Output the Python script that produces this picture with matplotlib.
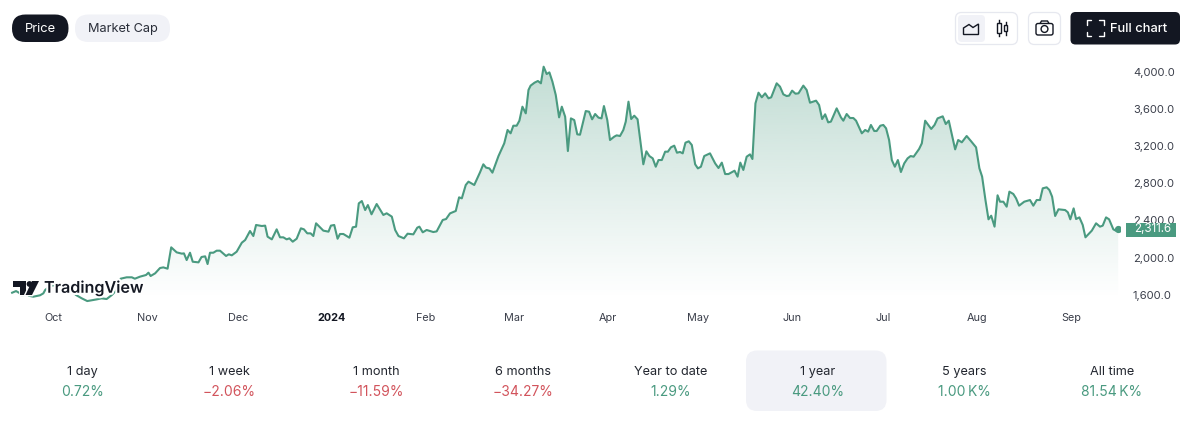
import numpy as np
import matplotlib
matplotlib.use("Agg")
import matplotlib.pyplot as plt
import matplotlib.dates as mdates
import matplotlib.patheffects as pe
from matplotlib.patches import FancyBboxPatch, Polygon, Rectangle, Circle
from matplotlib.colors import to_rgb

plt.rcParams['font.family'] = ['Inter', 'DejaVu Sans']

# days counted from 2023-10-01
days = [-13.5,-12.2,-10.9,-10.3,-8.7,-6.5,-4.3,-3.2,-2.6,-1,1.2,2.9,5,6.7,7.6,9.5,11.3,14.4,16,17.7,19.4,21,21.7,22.3,24.3,26,27,28.7,30.7,31.5,32.2,33.7,35.3,36.4,37.8,39,40.8,42.5,43.2,44.1,45.2,46.1,48,49,50.2,51,51.8,52.9,54,55.1,57.1,58,59,60.6,62.3,63.4,65,66.1,67,68.9,70,70.8,72.2,73.8,74.9,76,77.1,78,79.1,80.4,81.8,82.8,83.9,85,85.9,86.8,87.9,89.2,90.9,91.7,92.8,93.9,94.7,95.8,97.8,98.9,100,100.9,101.9,103,103.9,105.1,106.8,109,110.1,111.8,112.9,114,
115.8,117,118.9,120.2,120.9,122,123.3,125.5,126.6,128.6,129.7,131,132.9,134,134.9,136.2,137.1,139,140.9,142,142.9,144,145,147,148.9,150,151,151.9,153,153.9,154.9,156,156.9,157.6,158.9,160,161,161.9,162.9,163.8,164.8,165.9,167,167.9,169,169.9,170.9,172,173,173.9,175.8,176.9,177.9,178.9,180,181,181.8,182.9,183.8,185.2,186,187.1,188.2,189,189.9,190.8,191.8,192.9,194.8,195.8,196.8,197.9,198.9,199.8,200.9,202,202.9,203.9,205,205.9,206.9,207.8,208.7,209.8,210.8,211.9,212.8,213.8,214.9,216.8,218.5,219.6,220.7,221.8,222.9,224.9,225.9,226.8,227.8,228.9,230,230.8,231.8,232.8,233.9,235,236.1,237,238.8,239.9,241,242.1,242.9,243.9,245,246,
247.6,248.7,249.8,251.8,252.8,253.8,254.8,255.8,256.7,258.6,260,260.8,261.9,263,264.1,265,266.9,268,269,269.9,271,271.8,273,274,274.9,275.9,276.8,277.8,278.8,279.8,280.9,282,283,284,285.8,286.7,287.8,289.8,290.9,291.9,293.6,294.6,295.6,297.7,298.7,299.9,301.5,302.9,304.6,305.7,306.6,307.7,308.7,309.6,310.7,311.7,312.5,313.6,314.7,315.6,316.9,317.8,318.8,320.5,322.4,323.5,324.6,325.7,326.6,327.9,328.8,329.7,330.7,331.8,334,334.9,335.7,336.8,337.6,338.7,339.8,340.7,342.8,344.2,345.5,346.4,347.5,348.5,349.9,350.7,351.5]

price = [1621,1639,1614,1589,1593,1578,1593,1614,1650,1694,1704,1679,1657,1621,1596,1560,1531,1549,1560,1553,1596,1650,1722,1772,1787,1787,1772,1794,1812,1837,1801,1830,1887,1894,1880,2110,2056,2042,2045,1973,2052,1955,1948,2006,2013,1930,2052,2052,2074,2074,2017,2035,2024,2063,2160,2189,2286,2232,2351,2340,2344,2225,2196,2304,2218,2218,2196,2207,2171,2203,2315,2304,2261,2261,2232,2369,2333,2290,2279,2344,2351,2203,2254,2254,2214,2326,2333,2584,2609,2512,2566,2466,2577,2459,2477,2441,2297,2232,
2207,2257,2250,2322,2333,2272,2297,2275,2282,2405,2415,2476,2502,2649,2638,2782,2818,2782,2918,3005,2969,2961,2915,3094,3231,3375,3339,3421,3421,3475,3626,3554,3806,3853,3885,3903,3878,4057,3978,3996,3896,3752,3511,3626,3518,3148,3500,3482,3328,3324,3579,3572,3490,3547,3508,3500,3633,3482,3267,3303,3317,3310,3375,3465,3680,3493,3529,3490,3005,3145,3094,3069,2979,3051,3051,3141,3141,3188,3206,3130,3138,3123,3238,3253,3213,3005,2961,2979,3094,3123,3015,2965,3023,2900,2900,2936,2872,3023,2944,3087,3112,3062,3662,3777,3727,3770,3716,3727,3878,3842,3759,3741,3745,3799,3766,3770,
3853,3806,3669,3691,3644,3493,3544,3457,3465,3608,3511,3475,3547,3504,3504,3475,3339,3375,3357,3429,3364,3364,3421,3429,3393,3267,3051,2979,3051,2922,3015,3069,3094,3087,3170,3231,3475,3386,3429,3500,3522,3439,3475,3166,3267,3242,3310,3256,3188,2962,2872,2620,2412,2451,2333,2671,2602,2602,2548,2710,2685,2638,2559,2602,2620,2559,2620,2620,2746,2757,2728,2656,2448,2520,2512,2487,2412,2530,2415,2433,2351,2218,2290,2369,2333,2344,2433,2412,2304,2290,2311.6]

y_ticks = [1600, 2000, 2400, 2800, 3200, 3600, 4000]
x_tick_dates = ['2023-10-01','2023-11-01','2023-12-01','2024-01-01','2024-02-01','2024-03-01','2024-04-01','2024-05-01','2024-06-01','2024-07-01','2024-08-01','2024-09-01']
x_tick_labels = ['Oct','Nov','Dec','2024','Feb','Mar','Apr','May','Jun','Jul','Aug','Sep']
last_price = 2311.6

periods = ['1 day','1 week','1 month','6 months','Year to date','1 year','5 years','All time']
changes = ['0.72%','\u22122.06%','\u221211.59%','\u221234.27%','1.29%','42.40%','1.00\u2009K%','81.54\u2009K%']

GREEN = '#4a9a80'
RED = '#d2545c'
DARK = '#131722'
PALE = '#f1f2f7'
W, H = 1200, 438

fig = plt.figure(figsize=(W/100, H/100), dpi=100, facecolor='white')

# chart axes: pixel box x 0-1120, y 50-307
ax = fig.add_axes([0, 1-307/H, 1120/W, 257/H])
base = mdates.datestr2num('2023-10-01')
x = base + np.array(days)
y = np.array(price, dtype=float)
ax.set_xlim(base-17.5, base+352.1)
ax.set_ylim(1467, 4237)
for s in ax.spines.values():
    s.set_visible(False)
ax.patch.set_alpha(0)

rgb = to_rgb(GREEN)
grad = np.zeros((256, 1, 4))
grad[..., :3] = rgb
grad[..., 3] = np.linspace(0.34, 0.0, 256)[:, None]
poly = ax.fill_between(x, y, 1560, color='none', lw=0)
im = ax.imshow(grad, extent=[x[0], x[-1], 1560, 4076], aspect='auto', origin='upper', zorder=1)
pth = poly.get_paths()[0]
im.set_clip_path(pth, transform=ax.transData)
ax.set_xlim(base-17.5, base+352.1)
ax.set_ylim(1467, 4237)

ax.plot(x, y, color=GREEN, lw=1.5, zorder=2, solid_joinstyle='round')
ax.plot([x[-1]], [y[-1]], 'o', color=GREEN, ms=4.2, zorder=3)

ax.yaxis.tick_right()
ax.set_yticks(y_ticks)
ax.set_yticklabels([f'{v:,.1f}' for v in y_ticks])
ax.tick_params(axis='y', length=0, pad=9.3, labelsize=8, labelcolor='#3a3e4a')
ax.set_xticks([mdates.datestr2num(d) for d in x_tick_dates])
ax.set_xticklabels(x_tick_labels)
ax.tick_params(axis='x', length=0, pad=4, labelsize=7.8, labelcolor='#3a3e4a')
for t in ax.get_xticklabels():
    if t.get_text() == '2024':
        t.set_fontweight('bold')
        t.set_color(DARK)

# overlay in pixel coordinates for the page furniture
ov = fig.add_axes([0, 0, 1, 1], zorder=5)
ov.set_xlim(0, W)
ov.set_ylim(H, 0)
ov.axis('off')
ov.patch.set_alpha(0)

def box(x0, y0, x1, y1, r, fc, ec='none', lw=0):
    ov.add_patch(FancyBboxPatch((x0+r, y0+r), x1-x0-2*r, y1-y0-2*r,
                                boxstyle=f'round,pad={r},rounding_size={r}',
                                fc=fc, ec=ec, lw=lw, mutation_aspect=1))

box(12, 14.5, 68.5, 42, 13.5, DARK)
ov.text(40, 29, 'Price', color='white', fontsize=9.3, ha='center', va='center')
box(75, 14.5, 170, 42, 13.5, PALE)
ov.text(122.5, 29, 'Market Cap', color='#2a2e39', fontsize=9.2, ha='center', va='center')

# chart style toggle
box(955.5, 12.5, 1017.5, 44.5, 6, 'white', '#e6e8ef', 0.9)
box(958, 15, 985, 42, 4, PALE)
ov.add_patch(Polygon([(963.5, 34.5), (963.5, 28), (969, 24.5), (973, 27.5), (978.5, 24), (978.5, 34.5)],
                     closed=True, fc='none', ec=DARK, lw=1.0))
for cx, y0, y1, by0, by1 in [(999, 20, 36, 22.5, 33), (1005.5, 22, 35, 25, 31)]:
    ov.plot([cx, cx], [y0, y1], color=DARK, lw=1.0)
    ov.add_patch(Rectangle((cx-1.8, by0), 3.6, by1-by0, fc='white', ec=DARK, lw=1.0, zorder=4))

# camera button
box(1028.5, 12.5, 1060.5, 44.5, 6, 'white', '#e6e8ef', 0.9)
box(1036, 23.5, 1053, 35, 2, 'white', DARK, 1.0)
ov.add_patch(Polygon([(1040, 23.5), (1041.5, 21), (1047.5, 21), (1049, 23.5)], closed=False, fc='none', ec=DARK, lw=1.0))
ov.add_patch(Circle((1044.5, 29), 3.4, fc='white', ec=DARK, lw=1.0))

# full chart button
box(1070.5, 12, 1180, 44.5, 5, DARK)
for xs, ys in [((1087, 1087, 1091), (24.5, 20, 20)), ((1099, 1103.5, 1103.5), (20, 20, 24.5)),
               ((1087, 1087, 1091), (31.5, 36, 36)), ((1099, 1103.5, 1103.5), (36, 36, 31.5))]:
    ov.plot(xs, ys, color='white', lw=1.0, solid_capstyle='round', solid_joinstyle='round')
ov.text(1138.5, 29, 'Full chart', color='white', fontsize=9.3, ha='center', va='center', fontweight='medium')

# last price tag
ov.add_patch(Rectangle((1126, 222.5), 50, 14, fc=GREEN, ec='none'))
ov.text(1171, 229.5, f'{last_price:,.1f}', color='white', fontsize=8.3, ha='right', va='center')

# TradingView logo
halo = [pe.withStroke(linewidth=3, foreground='white')]
for pts in ([(13, 281), (26, 281), (26, 295), (20, 295), (20, 287), (13, 287)],
            [(32, 281), (39, 281), (32, 295), (25.5, 295)]):
    ov.add_patch(Polygon(pts, closed=True, fc=DARK, ec='white', lw=2))
    ov.add_patch(Polygon(pts, closed=True, fc=DARK, ec='none'))
ov.add_patch(Circle((29.5, 284), 2.9, fc=DARK, ec='none'))
ov.text(44, 288, 'TradingView', color=DARK, fontsize=11.6, fontweight='semibold',
        ha='left', va='center', path_effects=halo)

# period strip
box(746, 350.5, 886.5, 411, 11, PALE)
for i, (p, c) in enumerate(zip(periods, changes)):
    cx = 82 + 147.1*i
    ov.text(cx, 372, p, color='#22262f', fontsize=9.15, ha='center', va='center')
    col = RED if c.startswith('\u2212') else GREEN
    ov.text(cx, 392, c, color=col, fontsize=10, ha='center', va='center')

fig.savefig('out.png', dpi=100, facecolor='white')
